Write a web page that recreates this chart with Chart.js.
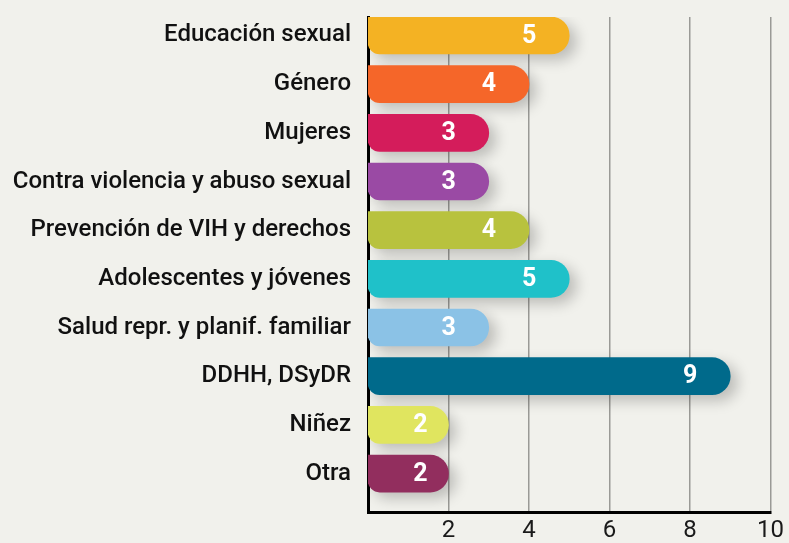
<!DOCTYPE html>
<html>
<head>
<meta charset="utf-8">
<script src="https://cdn.jsdelivr.net/npm/chart.js@4"></script>
<style>
  html, body { margin: 0; padding: 0; background: #f1f1ec; }
  #wrap { width: 789px; height: 543px; }
</style>
</head>
<body>
<div id="wrap"><canvas id="temas"></canvas></div>
<script>
var categorias = ['Educación sexual', 'Género', 'Mujeres', 'Contra violencia y abuso sexual',
  'Prevención de VIH y derechos', 'Adolescentes y jóvenes', 'Salud repr. y planif. familiar',
  'DDHH, DSyDR', 'Niñez', 'Otra'];
var valores = [5, 4, 3, 3, 4, 5, 3, 9, 2, 2];
var colores = ['#f4b223', '#f56629', '#d41c5b', '#9a4aa4', '#b8c23e',
  '#1fc1c9', '#8bc2e6', '#006a8b', '#e0e55f', '#922e5e'];
var ticksX = [2, 4, 6, 8, 10];

Chart.defaults.font.family = 'Roboto';

// soft drop shadow under the bars
var sombra = {
  id: 'sombra',
  beforeDatasetsDraw: function(chart) {
    var ctx = chart.ctx;
    ctx.save();
    ctx.shadowColor = 'rgba(0,0,0,0.22)';
    ctx.shadowBlur = 14;
    ctx.shadowOffsetX = 7;
    ctx.shadowOffsetY = 6;
  },
  afterDatasetsDraw: function(chart) {
    chart.ctx.restore();
  }
};

// white value inside the end of every bar
var etiquetas = {
  id: 'etiquetas',
  afterDatasetsDraw: function(chart) {
    var ctx = chart.ctx;
    var meta = chart.getDatasetMeta(0);
    ctx.save();
    ctx.fillStyle = '#ffffff';
    ctx.font = 'bold 25px Roboto';
    ctx.textAlign = 'center';
    ctx.textBaseline = 'middle';
    meta.data.forEach(function(bar, i) {
      var ancho = bar.x - bar.base;
      var off = Math.min(40, ancho * 0.35);
      ctx.fillText(valores[i], bar.x - off, bar.y + 1);
    });
    ctx.restore();
  }
};

new Chart(document.getElementById('temas'), {
  type: 'bar',
  data: {
    datasets: [{
      data: valores.map(function(v, i) { return { x: v, y: i }; }),
      backgroundColor: colores,
      borderWidth: 0,
      borderSkipped: false,
      borderRadius: { topLeft: 0, bottomLeft: 12, topRight: 18.5, bottomRight: 18.5 },
      barThickness: 37
    }]
  },
  options: {
    indexAxis: 'y',
    responsive: true,
    maintainAspectRatio: false,
    animation: false,
    layout: { padding: { top: 17, right: 17, left: 0, bottom: 0 } },
    plugins: { legend: { display: false }, tooltip: { enabled: false } },
    scales: {
      x: {
        type: 'linear',
        min: 0,
        max: 10,
        afterBuildTicks: function(scale) {
          scale.ticks = ticksX.map(function(v) { return { value: v }; });
        },
        afterFit: function(scale) { scale.height = 31; },
        grid: { color: '#9a9a96', lineWidth: 1.5, drawTicks: false },
        border: { display: true, color: '#000', width: 3 },
        ticks: { color: '#1a1a1a', font: { size: 24 }, padding: 5 }
      },
      y: {
        type: 'linear',
        reverse: true,
        offset: false,
        min: -0.38,
        max: 9.79,
        z: 1,
        afterBuildTicks: function(scale) {
          scale.ticks = categorias.map(function(c, i) { return { value: i }; });
        },
        afterFit: function(scale) {
          scale.width = 368;
          scale.paddingTop = 0;
          scale.paddingBottom = 0;
        },
        grid: { display: false, drawTicks: false, offset: false },
        border: { display: true, color: '#000', width: 3 },
        ticks: {
          autoSkip: false,
          color: '#111',
          font: { size: 24, weight: '500' },
          padding: 17,
          callback: function(v) { return categorias[v]; }
        }
      }
    }
  },
  plugins: [sombra, etiquetas]
});
</script>
</body>
</html>
